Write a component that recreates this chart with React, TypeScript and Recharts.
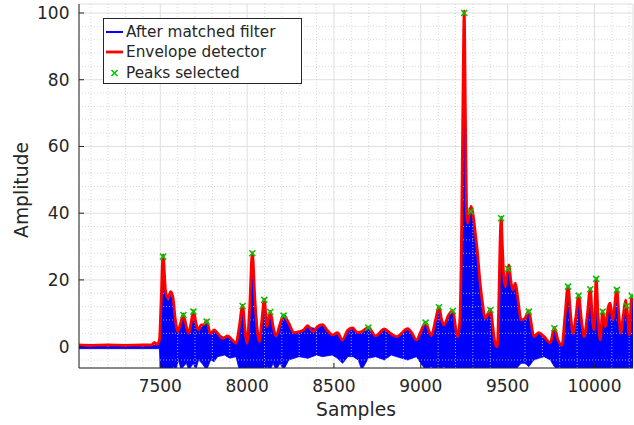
import {
  ComposedChart,
  Area,
  Line,
  Scatter,
  XAxis,
  YAxis,
  CartesianGrid,
  ReferenceLine,
  Legend,
} from "recharts";

const xTicks = [7500, 8000, 8500, 9000, 9500, 10000];
const yTicks = [0, 20, 40, 60, 80, 100];
const xMinor = [7100, 7200, 7300, 7400, 7600, 7700, 7800, 7900, 8100, 8200, 8300, 8400, 8600, 8700, 8800, 8900, 9100, 9200, 9300, 9400, 9600, 9700, 9800, 9900, 10100, 10200];
const yMinor = [-4, 4, 8, 12, 16, 24, 28, 32, 36, 44, 48, 52, 56, 64, 68, 72, 76, 84, 88, 92, 96];

// envelope detector (red)
const envX = [7032, 7100, 7200, 7300, 7400, 7450, 7467, 7480, 7495, 7505, 7516, 7530, 7543, 7560, 7572, 7587, 7600, 7617, 7633, 7648, 7662, 7677, 7691, 7706, 7720, 7735, 7750, 7767, 7788, 7811, 7830, 7860, 7888, 7915, 7936, 7955, 7974, 7988, 7999, 8015, 8030, 8045, 8058, 8070, 8085, 8099, 8114, 8133, 8150, 8166, 8188, 8210, 8240, 8271, 8300, 8325, 8348, 8380, 8405, 8434, 8460, 8491, 8520, 8549, 8580, 8608, 8635, 8660, 8698, 8740, 8790, 8825, 8860, 8925, 8950, 8975, 9000, 9028, 9045, 9060, 9085, 9105, 9120, 9133, 9160, 9185, 9200, 9212, 9225, 9235, 9243, 9250, 9257, 9264, 9270, 9280, 9290, 9300, 9312, 9325, 9340, 9353, 9372, 9388, 9401, 9415, 9428, 9440, 9450, 9456, 9463, 9470, 9478, 9487, 9497, 9508, 9518, 9530, 9545, 9560, 9578, 9600, 9622, 9636, 9651, 9679, 9710, 9746, 9769, 9790, 9813, 9830, 9848, 9862, 9876, 9893, 9909, 9925, 9941, 9958, 9976, 9990, 9998, 10010, 10022, 10033, 10047, 10062, 10080, 10091, 10105, 10129, 10140, 10152, 10165, 10180, 10190, 10200, 10210, 10215, 10222];
const envY = [0.5, 0.4, 0.5, 0.4, 0.5, 0.5, 1.3, 0.6, 2, 14, 27.5, 17, 14.5, 16.5, 15, 8, 4.5, 7, 9.8, 6.5, 4.0, 7, 10.8, 7, 5.0, 6.5, 6.5, 7.8, 4.0, 5.0, 4.0, 2.5, 3.2, 2.0, 1.0, 6, 12.4, 5, 1.0, 12, 28.2, 14, 5, 1.5, 8, 14.2, 6.0, 10.6, 6, 3.2, 6.5, 9.5, 7, 4.2, 4.5, 5, 6.3, 4.5, 6, 6.6, 5, 3.5, 4.2, 2.0, 5.0, 5.6, 4.2, 4.5, 5.8, 3.2, 5.3, 4, 3.0, 5.4, 4, 2.0, 4.5, 7.3, 5, 3.3, 8, 12.0, 8, 6.5, 9.5, 10.8, 6, 3.0, 8, 35, 75, 100.6, 70, 40, 37, 40, 42, 40, 35, 29, 20, 14, 8.5, 10, 11.2, 6, 1, 0, 15, 30, 38.8, 30, 21, 18, 22, 24.5, 20, 17, 19, 14, 8, 8.5, 10.8, 7, 3.0, 4.2, 3.0, 1.2, 5.8, 2, 0.5, 9, 18.2, 10, 4.0, 9, 15.5, 8, 3.0, 9, 17.4, 7, 5, 20.5, 8, 2.0, 10.7, 6, 12, 13, 8, 17.2, 10, 4.0, 9, 14, 10, 3.5, 12, 15.2, 14];

// matched filter output (blue), lower and upper extent of the trace
const blueX = [7032, 7495, 7500, 7505, 7516, 7530, 7545, 7560, 7575, 7590, 7605, 7620, 7633, 7650, 7665, 7690, 7705, 7720, 7740, 7767, 7790, 7810, 7830, 7870, 7900, 7936, 7955, 7974, 7990, 8000, 8015, 8030, 8045, 8070, 8085, 8099, 8115, 8133, 8150, 8166, 8190, 8210, 8240, 8270, 8300, 8350, 8400, 8434, 8490, 8520, 8550, 8580, 8610, 8640, 8660, 8698, 8740, 8790, 8830, 8860, 8925, 8975, 9000, 9028, 9060, 9085, 9105, 9133, 9160, 9185, 9212, 9225, 9235, 9243, 9250, 9257, 9264, 9280, 9292, 9312, 9325, 9340, 9353, 9372, 9401, 9428, 9440, 9450, 9463, 9478, 9487, 9508, 9530, 9545, 9560, 9578, 9600, 9622, 9651, 9679, 9710, 9746, 9769, 9790, 9813, 9830, 9848, 9876, 9909, 9941, 9976, 9998, 10010, 10033, 10047, 10062, 10091, 10105, 10129, 10152, 10180, 10200, 10215, 10222];
const blueLo = [-0.6, -0.6, -7, -7, -7, -7, -7, -7, -6, -7, -4, -7, -6, -5, -7, -5, -7, -4, -5, -7, -4, -4.5, -3, -2.5, -3.5, -3, -7, -7, -7, -7, -7, -7, -7, -7, -7, -7, -6, -7, -5, -7, -5, -7, -4, -3.5, -3, -3.5, -2.5, -3, -2.5, -3.5, -5, -3, -3, -4, -7, -3.5, -3, -4, -2.5, -3, -4, -3, -5, -7, -6, -7, -7, -6, -7, -7, -7, -7, -7, -7, -7, -7, -7, -7, -7, -7, -7, -7, -7, -7, -7, -7, -7, -7, -7, -7, -7, -7, -7, -7, -6, -5, -5, -6, -4, -3.5, -3, -4, -6, -7, -7, -7, -7, -7, -7, -7, -7, -7, -7, -7, -7, -7, -7, -7, -7, -7, -7, -7, -7, -7];
const blueHi = [0.2, 0.5, 5, 12, 25, 16, 13.5, 15.5, 13.5, 7, 4.2, 7, 9.2, 6, 4.2, 10.2, 6.5, 4.8, 6, 7.2, 3.8, 4.8, 3.8, 2.7, 2.8, 0.8, 5.5, 11.8, 4.5, 1, 10.5, 26, 13.5, 1.2, 7.5, 13.8, 5.8, 10.2, 5.5, 3, 6.3, 9.2, 6.5, 3.8, 4.3, 5.9, 5.4, 6.3, 3.3, 3.8, 1.7, 4.7, 5.3, 3.9, 4.3, 5.6, 2.9, 5.1, 3.9, 2.8, 5.2, 1.8, 4.3, 7.1, 3.1, 7.5, 11.7, 6.3, 9.3, 10.6, 2.7, 8, 33, 72, 97, 66, 38, 38.5, 41, 34, 28, 19, 13, 8, 10.8, 0.7, -0.5, 14, 37.5, 20, 17, 23.5, 16.5, 18.5, 13.5, 7.5, 8, 10.3, 2.8, 3.9, 2.8, 0.8, 5.4, 1.8, 0.2, 8.5, 17.5, 3.8, 15, 2.8, 17, 4.8, 20, 1.8, 10.3, 5.8, 12.8, 7.8, 16.8, 3.8, 13.7, 3.2, 14.8, 13.8];

// selected peaks (green x)
const peakX = [7516, 7633, 7691, 7767, 7974, 8030, 8099, 8133, 8210, 8698, 9028, 9105, 9185, 9250, 9287, 9401, 9463, 9503, 9622, 9769, 9848, 9909, 9976, 10010, 10047, 10129, 10187, 10215];
const peakY = [27.0, 9.5, 10.5, 7.5, 12.2, 28.0, 14.0, 10.4, 9.3, 5.7, 7.2, 11.8, 10.7, 100.0, 40.5, 11.0, 38.5, 23.3, 10.5, 5.5, 18.0, 15.3, 17.2, 20.3, 10.5, 17.0, 12.2, 15.2];

const seriesNames = ["After matched filter", "Envelope detector", "Peaks selected"];

const envData = envX.map((x, i) => ({ x, y: envY[i] }));
const blueData = blueX.map((x, i) => ({ x, band: [blueLo[i], blueHi[i]] }));
const peakData = peakX.map((x, i) => ({ x, y: peakY[i] }));

const FONT = "'DejaVu Sans', sans-serif";
const INK = "#262626";
const GREEN = "#00c800";

const XMark = (props: any) => {
  const { cx, cy } = props;
  const r = 3;
  return (
    <path
      d={`M${cx - r},${cy - r}L${cx + r},${cy + r}M${cx - r},${cy + r}L${cx + r},${cy - r}`}
      stroke={GREEN}
      strokeWidth={1.6}
      fill="none"
    />
  );
};

const LegendBox = () => {
  const rowTop = [3, 23, 44];
  return (
    <div
      style={{
        width: 197,
        height: 64,
        border: `1px solid ${INK}`,
        background: "#fff",
        position: "relative",
        fontFamily: FONT,
        fontSize: 15.3,
        color: INK,
      }}
    >
      {seriesNames.map((name, i) => (
        <div key={name} style={{ position: "absolute", left: 0, top: rowTop[i], height: 20, display: "flex", alignItems: "center", whiteSpace: "nowrap" }}>
          <svg width={21} height={20} style={{ marginRight: 1 }}>
            {i === 0 && <line x1={2} y1={10} x2={19} y2={10} stroke="#0000ff" strokeWidth={2} />}
            {i === 1 && <line x1={2} y1={10} x2={19} y2={10} stroke="#ff0000" strokeWidth={2.8} />}
            {i === 2 && <XMark cx={10.5} cy={10} />}
          </svg>
          <span>{name}</span>
        </div>
      ))}
    </div>
  );
};

export default function App() {
  return (
    <div style={{ position: "absolute", left: 0, top: 0, width: 634, height: 425, background: "#fff" }}>
      <ComposedChart width={634} height={425} margin={{ top: 4, right: 1, bottom: 0, left: 0 }}>
        <CartesianGrid stroke="#dfdfdf" strokeWidth={1} />
        {xMinor.map((v) => (
          <ReferenceLine key={`mx${v}`} x={v} stroke="#cfcfcf" strokeDasharray="1 2" strokeWidth={0.8} />
        ))}
        {yMinor.map((v) => (
          <ReferenceLine key={`my${v}`} y={v} stroke="#cfcfcf" strokeDasharray="1 2" strokeWidth={0.8} />
        ))}
        <XAxis
          type="number"
          dataKey="x"
          domain={[7032, 10222]}
          ticks={xTicks}
          allowDataOverflow
          height={57}
          tickSize={-5}
          tickMargin={17}
          stroke={INK}
          tick={{ fill: INK, fontSize: 17, fontFamily: FONT }}
          label={{
            content: () => (
              <text x={356} y={416} textAnchor="middle" fill={INK} fontSize={18.7} fontFamily={FONT}>
                Samples
              </text>
            ),
          }}
        />
        <XAxis xAxisId="top" orientation="top" type="number" domain={[7032, 10222]} ticks={xTicks} allowDataOverflow height={0} tickSize={-5} tick={false} stroke={INK} />
        <YAxis
          type="number"
          domain={[-6.4, 102.7]}
          ticks={yTicks}
          allowDataOverflow
          width={79}
          tickSize={-5}
          tickMargin={14.5}
          stroke={INK}
          tick={{ fill: INK, fontSize: 17, fontFamily: FONT }}
          label={{
            content: () => (
              <text x={28} y={190} transform="rotate(-90 28 190)" textAnchor="middle" fill={INK} fontSize={18.7} fontFamily={FONT}>
                Amplitude
              </text>
            ),
          }}
        />
        <YAxis yAxisId="right" orientation="right" type="number" domain={[-6.4, 102.7]} ticks={yTicks} allowDataOverflow width={0} tickSize={-5} tick={false} stroke={INK} />
        <Area
          data={blueData}
          dataKey="band"
          type="linear"
          fill="#0000ff"
          fillOpacity={1}
          stroke="#0000ff"
          strokeWidth={0.8}
          isAnimationActive={false}
          name={seriesNames[0]}
        />
        <Line
          data={envData}
          dataKey="y"
          type="monotone"
          stroke="#ff0000"
          strokeWidth={2.8}
          dot={false}
          isAnimationActive={false}
          name={seriesNames[1]}
        />
        <Scatter data={peakData} dataKey="y" shape={<XMark />} isAnimationActive={false} name={seriesNames[2]} />
        <Legend
          layout="vertical"
          align="center"
          verticalAlign="middle"
          content={() => <LegendBox />}
          wrapperStyle={{ left: 103, top: 18, width: 199, height: 66 }}
        />
      </ComposedChart>
    </div>
  );
}
